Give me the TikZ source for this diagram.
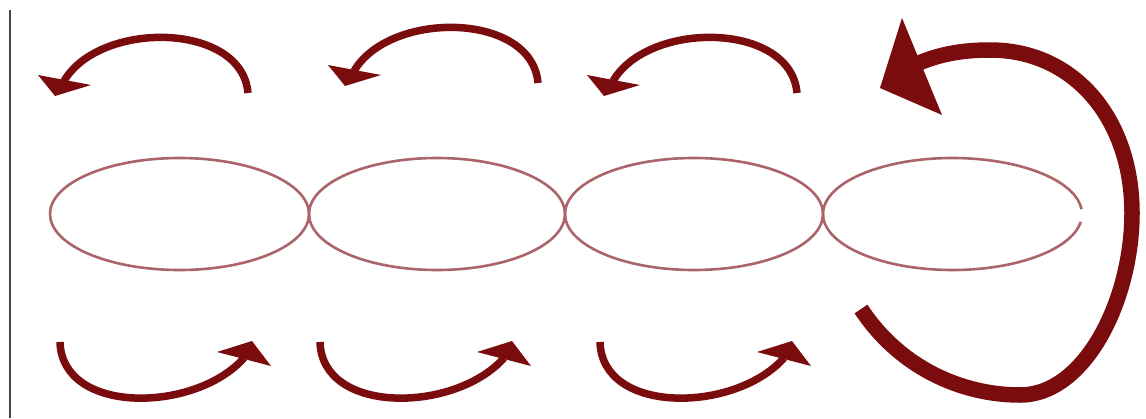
\documentclass[tikz,border=0pt]{standalone}
\definecolor{arrowred}{RGB}{122,12,14}
\definecolor{ringcol}{RGB}{170,100,106}
\definecolor{edgegray}{RGB}{70,70,70}
\tikzset{
  shaft/.style={draw=arrowred, line width=7.5pt, line cap=butt},
  bigshaft/.style={draw=arrowred, line width=15.5pt, line cap=butt},
  headfill/.style={fill=arrowred},
  ring/.style={draw=ringcol, line width=2.6pt},
  pics/toparrow/.style={code={
    \draw[shaft] (248,93) .. controls (242,22) and (100,20) .. (64,81);
    \fill[headfill] (38,75) -- (55,96) -- (91,85) -- cycle;
  }},
  pics/botarrow/.style={code={
    \draw[shaft] (60,342) .. controls (62,415) and (195,413) .. (244,358);
    \fill[headfill] (217,352) -- (252,341) -- (271,366) -- cycle;
  }}
}
\begin{document}
\begin{tikzpicture}[x=1pt,y=-1pt]
\useasboundingbox[fill=white] (0,0) rectangle (1146,418);
% left edge line
\coordinate (lt) at (10,10);
\coordinate (lb) at (10,418);
\draw[edgegray, line width=2.2pt] (lt) -- (lb);
% ellipses
\coordinate (e1) at (179.5,214);
\coordinate (e2) at (437,214);
\coordinate (e3) at (694,214);
\coordinate (e4) at (952.5,214);
\draw[ring] (e1) ellipse [x radius=129.5, y radius=56];
\draw[ring] (e2) ellipse [x radius=128, y radius=56];
\draw[ring] (e3) ellipse [x radius=129, y radius=56];
\draw[ring] (e4) ++(8:129.5 and 56) arc [start angle=8, end angle=355, x radius=129.5, y radius=56];
% top arrows
\pic (ta1) at (0,0) {toparrow};
\pic (ta2) at (290,-10) {toparrow};
\pic (ta3) at (549,0) {toparrow};
% bottom arrows
\pic (ba1) at (0,0) {botarrow};
\pic (ba2) at (260,0) {botarrow};
\pic (ba3) at (540,0) {botarrow};
% big return arrow
\coordinate (bt) at (861,309);
\coordinate (bb) at (1020,395);
\coordinate (br) at (1132,213);
\coordinate (bp) at (990,50);
\coordinate (bh) at (919,63);
\draw[bigshaft] (bt) .. controls (900,368) and (962,395) .. (bb)
  .. controls (1085,395) and (1132,300) .. (br)
  .. controls (1132,120) and (1075,50) .. (bp)
  .. controls (960,50) and (938,55) .. (bh);
\fill[headfill] (902,18) -- (880,88) -- (942,115) -- cycle;
\end{tikzpicture}
\end{document}
